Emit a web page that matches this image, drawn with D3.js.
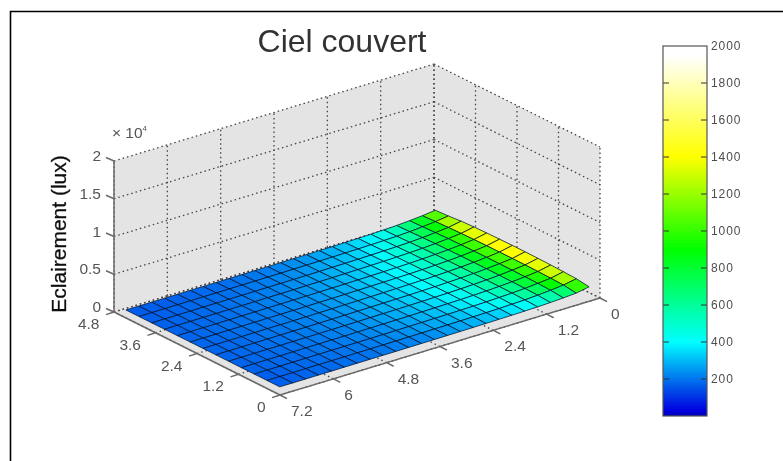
<!DOCTYPE html>
<html><head><meta charset="utf-8">
<script src="https://d3js.org/d3.v7.min.js"></script>
<style>html,body{margin:0;padding:0;background:#fff}svg{display:block}text{font-family:"Liberation Sans",Arial,sans-serif}</style>
</head><body><svg id="c" width="783" height="461"></svg>
<script>
const titleText = "Ciel couvert";
const zLabel = "Eclairement (lux)";
const xTicks = [0,1.2,2.4,3.6,4.8,6,7.2];
const yTicks = [0,1.2,2.4,3.6,4.8];
const zTicks = [0,5000,10000,15000,20000];
const zTickLabels = ["0","0.5","1","1.5","2"];
const barTicks = [200,400,600,800,1000,1200,1400,1600,1800,2000];
const colorDomain = [0,30,400,900,1400,1950,2000];
const colorRange = ["#0000b4","#0000e0","#00ffff","#00ff00","#ffff00","#ffffff","#ffffff"];
const xGrid = [0.05,0.34,0.63,0.92,1.21,1.5,1.79,2.08,2.37,2.66,2.95,3.24,3.53,3.82,4.11,4.4,4.69,4.98,5.27,5.56,5.85,6.14,6.43,6.72,7.01];
const yGrid = [0.25,0.62,0.99,1.36,1.73,2.1,2.47,2.84,3.21,3.58,3.95,4.32,4.7];
const lux = [
[1000,1220,1300,1350,1380,1400,1400,1380,1350,1300,1220,1060,950],
[680,900,960,1000,1020,1030,1030,1020,1000,960,900,830,740],
[560,720,790,820,840,850,850,840,820,790,730,660,600],
[470,590,640,670,690,700,700,690,670,640,590,530,480],
[410,490,540,570,580,590,590,580,570,540,490,440,410],
[370,430,470,490,500,510,510,500,490,470,430,390,360],
[335,380,410,430,440,445,445,440,430,410,380,345,325],
[310,345,370,385,395,400,400,395,385,365,340,315,295],
[290,315,335,350,360,365,365,360,350,335,310,290,270],
[270,295,310,320,330,335,335,330,320,310,290,270,255],
[255,275,290,300,305,310,310,305,300,285,270,250,238],
[240,260,270,280,285,290,290,285,275,265,250,237,225],
[230,245,255,262,268,270,270,268,260,250,237,225,215],
[220,232,240,247,251,253,253,251,245,238,225,215,205],
[212,222,228,234,238,240,240,238,232,225,215,205,197],
[205,213,219,223,227,229,229,227,222,216,207,198,191],
[200,206,211,215,218,220,220,218,214,208,200,192,186],
[194,200,204,207,210,211,211,209,206,201,194,187,181],
[189,194,198,201,203,204,204,202,199,195,189,182,177],
[184,189,193,195,197,198,198,197,194,190,184,178,173],
[180,184,187,189,191,192,192,191,188,185,180,174,170],
[176,180,183,185,186,187,187,186,184,181,176,171,167],
[172,175,178,180,181,182,182,181,179,176,172,168,164],
[168,171,174,176,177,178,178,177,175,172,168,164,161],
[165,168,170,172,173,174,174,173,171,168,165,162,159]];

const svg = d3.select("#c");
const defs = svg.append("defs");
defs.append("filter").attr("id","soft").attr("x","-5%").attr("y","-5%").attr("width","110%").attr("height","110%")
  .append("feGaussianBlur").attr("stdDeviation",0.6);
const color = d3.scaleLinear().domain(colorDomain).range(colorRange).clamp(true);

// oblique axes: each data axis maps to a screen offset
const xPx = d3.scaleLinear().domain([0,7.2]).range([600,280]);
const xPy = d3.scaleLinear().domain([0,7.2]).range([298,395]);
const yPx = d3.scaleLinear().domain([0,4.8]).range([0,-166]);
const yPy = d3.scaleLinear().domain([0,4.8]).range([0,-83]);
const zP  = d3.scaleLinear().domain([0,20000]).range([0,-151]);
const P = (x,y,z=0)=>[xPx(x)+yPx(y), xPy(x)+yPy(y)+zP(z)];
const pts = a=>a.map(p=>p.join(",")).join(" ");

// frame
svg.append("path").attr("d","M10.5,461V11.5H783").attr("fill","none").attr("stroke","#000").attr("stroke-width",1.6);

const g = svg.append("g").attr("filter","url(#soft)");
const xMax=7.2,yMax=4.8,zMax=20000;
// walls and floor
const walls=[
 [P(xMax,yMax),P(0,yMax),P(0,yMax,zMax),P(xMax,yMax,zMax)],
 [P(0,yMax),P(0,0),P(0,0,zMax),P(0,yMax,zMax)],
 [P(0,0),P(xMax,0),P(xMax,yMax),P(0,yMax)]];
g.selectAll("polygon.wall").data(walls).join("polygon").attr("class","wall").attr("points",pts).attr("fill","#e4e4e4");

const gridLines=[];
xTicks.forEach(x=>{gridLines.push([P(x,yMax),P(x,yMax,zMax)]);gridLines.push([P(x,0),P(x,yMax)]);});
yTicks.forEach(y=>{gridLines.push([P(0,y),P(0,y,zMax)]);gridLines.push([P(0,y),P(xMax,y)]);});
zTicks.forEach(z=>{gridLines.push([P(xMax,yMax,z),P(0,yMax,z)]);gridLines.push([P(0,yMax,z),P(0,0,z)]);});
g.selectAll("line.grid").data(gridLines).join("line").attr("class","grid")
 .attr("x1",d=>d[0][0]).attr("y1",d=>d[0][1]).attr("x2",d=>d[1][0]).attr("y2",d=>d[1][1])
 .attr("stroke","#444").attr("stroke-width",1.3).attr("stroke-dasharray","1.5 3");

// surface cells, back to front
const cells=[];
for(let i=0;i<xGrid.length-1;i++)for(let j=yGrid.length-2;j>=0;j--){
  cells.push({v:lux[i][j],p:[P(xGrid[i],yGrid[j],lux[i][j]),P(xGrid[i+1],yGrid[j],lux[i+1][j]),P(xGrid[i+1],yGrid[j+1],lux[i+1][j+1]),P(xGrid[i],yGrid[j+1],lux[i][j+1])]});
}
g.selectAll("polygon.cell").data(cells).join("polygon").attr("class","cell")
 .attr("points",d=>pts(d.p)).attr("fill",d=>color(d.v)).attr("stroke","#02122e").attr("stroke-width",1).attr("stroke-opacity",0.75);

// axis lines
const axisCol="#6a6a6a";
const axLines=[[P(0,0),P(xMax,0)],[P(xMax,0),P(xMax,yMax)],[P(xMax,yMax),P(xMax,yMax,zMax)]];
xTicks.forEach(x=>{const a=P(x,0);axLines.push([a,[a[0]+7,a[1]+3.6]]);});
yTicks.forEach(y=>{const a=P(xMax,y);axLines.push([a,[a[0]-8,a[1]+2.6]]);});
zTicks.forEach(z=>{const a=P(xMax,yMax,z);axLines.push([a,[a[0]-8,a[1]-3.5]]);});
g.selectAll("line.ax").data(axLines).join("line").attr("class","ax")
 .attr("x1",d=>d[0][0]).attr("y1",d=>d[0][1]).attr("x2",d=>d[1][0]).attr("y2",d=>d[1][1])
 .attr("stroke",axisCol).attr("stroke-width",1.5);

const lab={fill:"#555","font-size":15.5};
function texts(data,fn){const s=g.selectAll(null).data(data).join("text").text(d=>fn(d).t)
  .attr("x",d=>fn(d).x).attr("y",d=>fn(d).y).attr("text-anchor",d=>fn(d).a).attr("fill",lab.fill).attr("font-size",lab["font-size"]);return s;}
texts(xTicks,d=>{const a=P(d,0);return {t:String(d),x:a[0]+11,y:a[1]+21,a:"start"};});
texts(yTicks,d=>{const a=P(xMax,d);return {t:String(d),x:a[0]-14.5,y:a[1]+17,a:"end"};});
texts(zTicks.map((d,i)=>i),i=>{const a=P(xMax,yMax,zTicks[i]);return {t:zTickLabels[i],x:a[0]-13,y:a[1]-0,a:"end"};});

g.append("text").attr("x",342).attr("y",52).attr("text-anchor","middle").attr("font-size",32).attr("fill","#333").text(titleText);
g.append("text").attr("transform","translate(66,234) rotate(-90)").attr("text-anchor","middle").attr("font-size",21).attr("fill","#111").attr("stroke","#111").attr("stroke-width",0.3).text(zLabel);
const mult=g.append("text").attr("x",112).attr("y",138).attr("font-size",15.5).attr("fill","#555");
mult.append("tspan").text("× 10");
mult.append("tspan").attr("dy",-7).attr("font-size",8).text("4");

// colour bar
const barX=663,barW=44;
const barY=d3.scaleLinear().domain([0,2000]).range([416,46]);
const grad=defs.append("linearGradient").attr("id","cb").attr("x1",0).attr("x2",0).attr("y1",1).attr("y2",0);
colorDomain.forEach((d,i)=>grad.append("stop").attr("offset",d/2000).attr("stop-color",colorRange[i]));
const bar=g.append("g");
bar.append("rect").attr("x",barX).attr("y",46).attr("width",barW).attr("height",370).attr("fill","url(#cb)");
const ax=d3.axisRight(barY).tickValues(barTicks).tickSize(0).tickPadding(4).tickFormat(d3.format("d"));
const ag=bar.append("g").attr("transform",`translate(${barX+barW},0)`).call(ax);
ag.select(".domain").remove();
ag.selectAll("text").attr("font-size",12).attr("fill","#4d4d4d").attr("font-family",'"Liberation Sans",Arial,sans-serif').style("letter-spacing","0.9px");
bar.selectAll("line.cbt").data(barTicks.slice(0,-1)).join("line").attr("class","cbt")
 .attr("x1",barX).attr("x2",barX+6).attr("y1",barY).attr("y2",barY).attr("stroke","#333");
bar.selectAll("line.cbt2").data(barTicks.slice(0,-1)).join("line").attr("class","cbt2")
 .attr("x1",barX+barW-6).attr("x2",barX+barW).attr("y1",barY).attr("y2",barY).attr("stroke","#333");
bar.append("rect").attr("x",barX).attr("y",46).attr("width",barW).attr("height",370).attr("fill","none").attr("stroke","#555").attr("stroke-width",1.2);
</script></body></html>
